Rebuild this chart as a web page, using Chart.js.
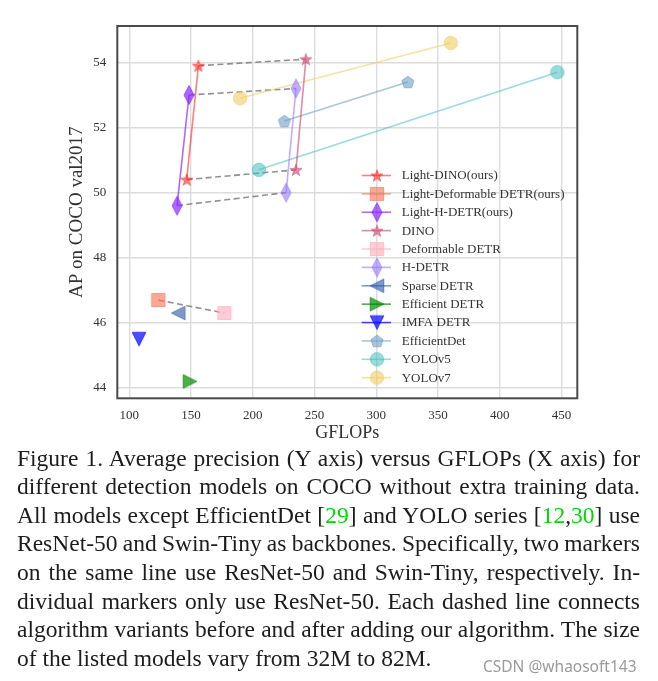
<!DOCTYPE html>
<html>
<head>
<meta charset="utf-8">
<script src="https://cdn.jsdelivr.net/npm/chart.js@4.4.0/dist/chart.umd.min.js"></script>
<style>
  html, body { margin: 0; padding: 0; background: #fff; }
  body { width: 658px; height: 681px; position: relative; overflow: hidden; }
  #chart { position: absolute; left: 0; top: 0; }
  #caption {
    position: absolute; left: 17px; top: 443.7px; width: 623px;
    font-family: "Liberation Serif", "Times New Roman", serif;
    font-size: 23.5px; line-height: 28.6px; color: #1c1c1c;
  }
  #caption .ln { white-space: nowrap; }
  #caption .cite { color: #00d800; }
  #mark {
    position: absolute; left: 483px; top: 655px;
    font-family: "Noto Sans", sans-serif; font-size: 15.5px; color: #9a9a9a;
  }
</style>
</head>
<body>
<canvas id="chart" width="658" height="445"></canvas>
<div id="caption">
  <div class="ln"><span>Figure 1. Average precision (Y axis) versus GFLOPs (X axis) for</span></div>
  <div class="ln"><span>different detection models on COCO without extra training data.</span></div>
  <div class="ln"><span>All models except EfficientDet [<span class="cite">29</span>] and YOLO series [<span class="cite">12</span>,<span class="cite">30</span>] use</span></div>
  <div class="ln"><span>ResNet-50 and Swin-Tiny as backbones. Specifically, two markers</span></div>
  <div class="ln"><span>on the same line use ResNet-50 and Swin-Tiny, respectively. In-</span></div>
  <div class="ln"><span>dividual markers only use ResNet-50. Each dashed line connects</span></div>
  <div class="ln"><span>algorithm variants before and after adding our algorithm. The size</span></div>
  <div class="ln last"><span>of the listed models vary from 32M to 82M.</span></div>
</div>
<div id="mark">CSDN @whaosoft143</div>
<script>
// values (GFLOPs, AP)
const seriesNames = ['Light-DINO(ours)', 'Light-Deformable DETR(ours)', 'Light-H-DETR(ours)', 'DINO',
  'Deformable DETR', 'H-DETR', 'Sparse DETR', 'Efficient DETR', 'IMFA DETR', 'EfficientDet', 'YOLOv5', 'YOLOv7'];

const lightDinoGflops = [146.5, 156.0];
const lightDinoAP = [50.4, 53.9];
const lightDeformGflops = [123.5];
const lightDeformAP = [46.7];
const lightHdetrGflops = [138.7, 148.4];
const lightHdetrAP = [49.6, 53.0];
const dinoGflops = [235.0, 243.0];
const dinoAP = [50.7, 54.1];
const deformGflops = [177.0];
const deformAP = [46.3];
const hdetrGflops = [227.0, 235.0];
const hdetrAP = [50.0, 53.2];
const sparseGflops = [139.7];
const sparseAP = [46.3];
const effDetrGflops = [149.2];
const effDetrAP = [44.2];
const imfaGflops = [107.9];
const imfaAP = [45.5];
const effDetGflops = [225.6, 325.6];
const effDetAP = [52.2, 53.4];
const yolo5Gflops = [204.9, 446.6];
const yolo5AP = [50.7, 53.7];
const yolo7Gflops = [189.7, 360.4];
const yolo7AP = [52.9, 54.6];

const xTicks = [100, 150, 200, 250, 300, 350, 400, 450];
const yTicks = [44, 46, 48, 50, 52, 54];

const seriesX = [lightDinoGflops, lightDeformGflops, lightHdetrGflops, dinoGflops, deformGflops, hdetrGflops,
  sparseGflops, effDetrGflops, imfaGflops, effDetGflops, yolo5Gflops, yolo7Gflops];
const seriesY = [lightDinoAP, lightDeformAP, lightHdetrAP, dinoAP, deformAP, hdetrAP,
  sparseAP, effDetrAP, imfaAP, effDetAP, yolo5AP, yolo7AP];

// justify caption lines to the column width (spaces may shrink a little, like TeX)
document.querySelectorAll('#caption .ln').forEach(ln => {
  if (ln.classList.contains('last')) return;
  const span = ln.firstElementChild;
  const w = span.getBoundingClientRect().width;
  const gaps = (span.textContent.match(/ /g) || []).length;
  span.style.wordSpacing = ((623 - w) / gaps) + 'px';
});

// styling
const colors = [
  'rgba(255,40,40,0.6)', 'rgba(250,110,80,0.6)', 'rgba(140,40,255,0.7)', 'rgba(210,90,130,0.7)',
  'rgba(255,175,190,0.65)', 'rgba(150,120,255,0.6)', 'rgba(40,85,165,0.6)', 'rgba(0,140,0,0.7)',
  'rgba(0,0,255,0.7)', 'rgba(110,160,195,0.6)', 'rgba(70,190,190,0.55)', 'rgba(240,205,100,0.6)'
];
const shapes = ['star', 'square', 'diamond', 'star', 'square', 'diamond', 'tleft', 'tright', 'tdown', 'pentagon', 'circle', 'circle'];

function makeMarker(shape, color) {
  const c = document.createElement('canvas');
  const w = 18, h = 22;
  c.width = w; c.height = h;
  const g = c.getContext('2d');
  g.translate(w / 2, h / 2);
  g.beginPath();
  if (shape === 'star') {
    const R = 6.2, r = R * 0.4;
    for (let i = 0; i < 10; i++) {
      const a = -Math.PI / 2 + i * Math.PI / 5;
      const rr = i % 2 ? r : R;
      g.lineTo(rr * Math.cos(a), rr * Math.sin(a) + 0.6);
    }
  } else if (shape === 'diamond') {
    g.moveTo(0, -9.5); g.lineTo(5, 0); g.lineTo(0, 9.5); g.lineTo(-5, 0);
  } else if (shape === 'square') {
    g.rect(-6.7, -6.5, 13.4, 13);
  } else if (shape === 'circle') {
    g.arc(0, 0, 6.7, 0, Math.PI * 2);
  } else if (shape === 'pentagon') {
    for (let i = 0; i < 5; i++) {
      const a = -Math.PI / 2 + i * 2 * Math.PI / 5;
      g.lineTo(6.4 * Math.cos(a), 6.4 * Math.sin(a) + 0.6);
    }
  } else if (shape === 'tleft') {
    g.moveTo(-6.8, 0); g.lineTo(6.8, -6.8); g.lineTo(6.8, 6.8);
  } else if (shape === 'tright') {
    g.moveTo(6.8, 0); g.lineTo(-6.8, -6.8); g.lineTo(-6.8, 6.8);
  } else if (shape === 'tdown') {
    g.moveTo(0, 6.8); g.lineTo(-6.8, -6.8); g.lineTo(6.8, -6.8);
  }
  g.closePath();
  g.fillStyle = color;
  g.fill();
  g.lineWidth = 1;
  g.strokeStyle = color;
  g.stroke();
  return c;
}

const markers = shapes.map((s, i) => makeMarker(s, colors[i]));
const pts = (xs, ys) => xs.map((x, i) => ({ x: x, y: ys[i] }));

const datasets = seriesNames.map((name, i) => ({
  label: name,
  data: pts(seriesX[i], seriesY[i]),
  showLine: true,
  borderColor: colors[i],
  backgroundColor: colors[i],
  borderWidth: 1.6,
  pointStyle: markers[i],
  pointRadius: 7
}));

// dashed lines: our variant -> original model
const pairs = [[lightDinoGflops, lightDinoAP, dinoGflops, dinoAP],
  [lightHdetrGflops, lightHdetrAP, hdetrGflops, hdetrAP],
  [lightDeformGflops, lightDeformAP, deformGflops, deformAP]];
pairs.forEach(p => {
  p[0].forEach((x, i) => {
    datasets.push({
      label: '',
      data: [{ x: x, y: p[1][i] }, { x: p[2][i], y: p[3][i] }],
      showLine: true,
      borderColor: 'rgba(125,125,125,0.85)',
      borderWidth: 1.6,
      borderDash: [6, 3.5],
      pointRadius: 0
    });
  });
});

const serif = '"Liberation Serif", "Times New Roman", serif';

const framePlugin = {
  id: 'frame',
  beforeDatasetsDraw(chart) {
    const { ctx, chartArea: a } = chart;
    ctx.save();
    ctx.strokeStyle = '#4a4a4a';
    ctx.lineWidth = 2;
    ctx.strokeRect(a.left, a.top, a.right - a.left, a.bottom - a.top);
    ctx.restore();
  }
};

const legendPlugin = {
  id: 'innerLegend',
  afterDatasetsDraw(chart) {
    const { ctx, chartArea: a } = chart;
    const x0 = a.right - 215.6;
    const y0 = a.top + 149.5;
    const step = 18.38;
    ctx.save();
    ctx.font = '13px ' + serif;
    ctx.textBaseline = 'middle';
    chart.data.datasets.forEach((ds, i) => {
      if (!ds.label) return;
      const y = y0 + i * step;
      ctx.strokeStyle = ds.borderColor;
      ctx.lineWidth = 1.6;
      ctx.beginPath();
      ctx.moveTo(x0, y);
      ctx.lineTo(x0 + 29.3, y);
      ctx.stroke();
      const m = ds.pointStyle;
      ctx.drawImage(m, x0 + 15.3 - m.width / 2, y - m.height / 2);
      ctx.fillStyle = '#333';
      ctx.fillText(ds.label, x0 + 40, y + 0.5);
    });
    ctx.restore();
  }
};

new Chart(document.getElementById('chart').getContext('2d'), {
  type: 'scatter',
  data: { datasets: datasets },
  plugins: [framePlugin, legendPlugin],
  options: {
    responsive: false,
    animation: false,
    devicePixelRatio: 1,
    layout: { padding: { top: 26, right: 80.7, left: 0, bottom: 0 } },
    plugins: { legend: { display: false }, tooltip: { enabled: false } },
    scales: {
      x: {
        type: 'linear',
        min: 90.3,
        max: 462.8,
        afterBuildTicks: s => { s.ticks = xTicks.map(v => ({ value: v })); },
        afterFit: s => { s.height = 46.7; },
        grid: { color: '#dcdcdc', lineWidth: 1.4, drawTicks: false },
        border: { display: false },
        ticks: { padding: 9, color: '#333', font: { family: serif, size: 13 } },
        title: { display: true, text: 'GFLOPs', color: '#333', font: { family: serif, size: 18 }, padding: { top: 0, bottom: 1 } }
      },
      y: {
        type: 'linear',
        min: 43.68,
        max: 55.12,
        afterBuildTicks: s => { s.ticks = yTicks.map(v => ({ value: v })); },
        afterFit: s => { s.width = 117.3; },
        grid: { color: '#dcdcdc', lineWidth: 1.4, drawTicks: false },
        border: { display: false },
        ticks: { padding: 11, color: '#333', font: { family: serif, size: 13 } },
        title: { display: true, text: 'AP on COCO val2017', color: '#333', font: { family: serif, size: 19 }, padding: { top: 66, bottom: 0 } }
      }
    }
  }
});
</script>
</body>
</html>
